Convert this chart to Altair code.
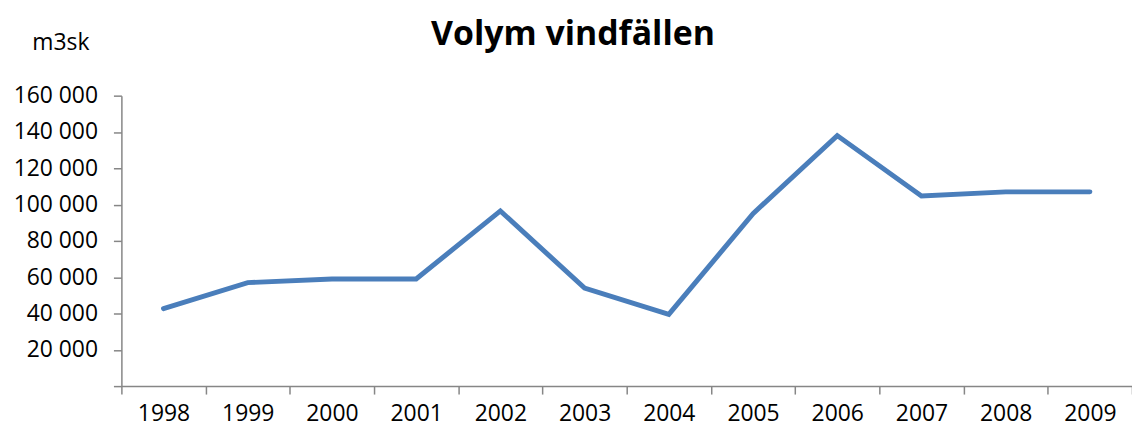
import altair as alt
import pandas as pd

years = ["1998", "1999", "2000", "2001", "2002", "2003", "2004", "2005", "2006", "2007", "2008", "2009"]
volume = [42700, 57000, 59000, 59000, 96500, 54000, 39500, 95000, 138000, 104700, 107000, 107000]
y_ticks = [0, 20000, 40000, 60000, 80000, 100000, 120000, 140000, 160000]

df = pd.DataFrame({"year": years, "volume": volume})

FONT = "Open Sans"
AXIS_GRAY = "#868686"

chart = alt.Chart(df).mark_line(
    color="#4a7ebb", strokeWidth=5, strokeCap="round", strokeJoin="miter"
).encode(
    x=alt.X("year:N", sort=years,
            scale=alt.Scale(paddingInner=0, paddingOuter=0),
            axis=alt.Axis(title=None, labelAngle=0, tickBand="extent",
                          tickSize=8, tickColor=AXIS_GRAY, tickWidth=1.5,
                          domainColor=AXIS_GRAY, domainWidth=1.5,
                          labelFont=FONT, labelFontSize=23, labelColor="black",
                          labelPadding=9, grid=False)),
    y=alt.Y("volume:Q",
            scale=alt.Scale(domain=[0, 160000], nice=False, zero=True),
            axis=alt.Axis(values=y_ticks, title="m3sk", titleAngle=0,
                          titleAlign="left", titleBaseline="middle",
                          titleX=-90, titleY=-53, titleFont=FONT,
                          titleFontSize=23, titleFontWeight="normal", titleColor="black",
                          labelExpr="datum.value == 0 ? '' : replace(format(datum.value, ','), ',', ' ')",
                          tickSize=8, tickColor=AXIS_GRAY, tickWidth=1.5,
                          domainColor=AXIS_GRAY, domainWidth=1.5,
                          labelFont=FONT, labelFontSize=23, labelColor="black",
                          labelPadding=16, grid=False)),
).properties(
    width=1016,
    height=292,
    title=alt.TitleParams("Volym vindfällen", font=FONT, fontSize=34, fontWeight="bold",
                          color="black", anchor="middle", frame="group", dx=-54, dy=24),
    autosize=alt.AutoSizeParams(type="none"),
    padding={"left": 114, "top": 87, "right": 0, "bottom": 43},
).configure_view(stroke=None)

chart.save("out.html", embed_options={"renderer": "svg", "actions": False})
